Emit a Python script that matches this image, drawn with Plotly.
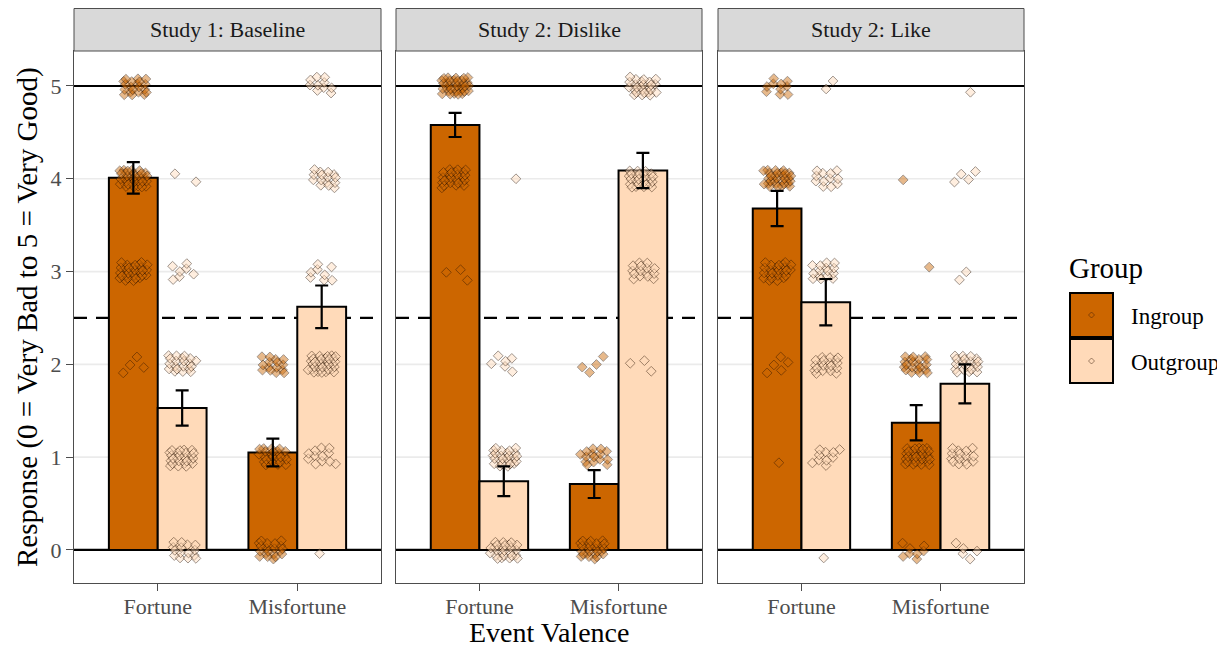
import plotly.graph_objects as go

# ---------------- data ----------------
panels = ["Study 1: Baseline", "Study 2: Dislike", "Study 2: Like"]
events = ["Fortune", "Misfortune"]
groups = ["Ingroup", "Outgroup"]

# bar means [panel][event][group]
means = [
    [[4.01, 1.53], [1.05, 2.62]],
    [[4.58, 0.74], [0.71, 4.09]],
    [[3.68, 2.67], [1.37, 1.79]],
]
# standard-error half widths
errs = [
    [[0.17, 0.19], [0.15, 0.23]],
    [[0.13, 0.16], [0.15, 0.19]],
    [[0.19, 0.25], [0.19, 0.21]],
]
# raw responses: counts of answers at levels 0,1,2,3,4,5  [panel][event][group]
response_levels = [0, 1, 2, 3, 4, 5]
counts = [
    [[[0, 0, 4, 30, 35, 20], [15, 25, 20, 7, 2, 0]],
     [[20, 25, 15, 0, 0, 0], [1, 12, 35, 8, 15, 10]]],
    [[[0, 0, 0, 3, 25, 35], [25, 25, 6, 0, 1, 0]],
     [[25, 15, 4, 0, 0, 0], [0, 0, 3, 15, 25, 25]]],
    [[[0, 1, 5, 25, 30, 10], [1, 10, 20, 15, 12, 2]],
     [[8, 30, 20, 1, 1, 0], [5, 15, 20, 2, 4, 1]]],
]
scale_limits = [0, 5]   # solid reference lines
midpoint = 2.5          # dashed reference line

colors = {"Ingroup": "#CC6600", "Outgroup": "#FFDAB9"}
FONT = "Liberation Serif"

# ---------------- layout geometry ----------------
# the page places the figure 8px in from the top-left corner
OFF = 8
W, H = 1225 - OFF, 649 - OFF
ml, mr, mt, mb = 74 - OFF, 1225 - 1024, 8 - OFF, 649 - 583
pw, ph = W - ml - mr, H - mt - mb
def px_x(p):
    return (p - OFF - ml) / pw
def px_y(p):
    return (H - mb - (p - OFF)) / ph

panel_px = [(74, 381), (396, 702), (718, 1024)]
panel_top, panel_bot = 51, 583
ydom = [0, px_y(panel_top)]

fig = go.Figure()

dodge = 0.35
bar_w = 0.35

def frac(v):
    return v - int(v)

for pi, pname in enumerate(panels):
    xa = "x" if pi == 0 else f"x{pi+1}"
    ya = "y" if pi == 0 else f"y{pi+1}"
    # gridlines and reference lines (below traces)
    for yv in response_levels:
        if yv in scale_limits:
            continue
        fig.add_shape(type="line", xref=f"{xa} domain", yref=ya, x0=0, x1=1, y0=yv, y1=yv,
                      line=dict(color="#EBEBEB", width=1.6), layer="below")
    for yv in scale_limits:
        fig.add_shape(type="line", xref=f"{xa} domain", yref=ya, x0=0, x1=1, y0=yv, y1=yv,
                      line=dict(color="black", width=2.2), layer="below")
    fig.add_shape(type="line", xref=f"{xa} domain", yref=ya, x0=0, x1=1,
                  y0=midpoint, y1=midpoint,
                  line=dict(color="black", width=2.2, dash="13px,9px"), layer="below")
    # bars
    for gi, g in enumerate(groups):
        xs = [ei + 1 + (gi - 0.5) * dodge for ei in range(len(events))]
        ys = [means[pi][ei][gi] for ei in range(len(events))]
        fig.add_trace(go.Bar(
            x=xs, y=ys, width=bar_w, xaxis=xa, yaxis=ya,
            marker=dict(color=colors[g], line=dict(color="black", width=2)),
            showlegend=False, hoverinfo="skip"))
    # jittered raw points
    for gi, g in enumerate(groups):
        px_, py_ = [], []
        for ei in range(len(events)):
            cx = ei + 1 + (gi - 0.5) * dodge
            k = 0
            for li, lev in enumerate(response_levels):
                for _ in range(counts[pi][ei][gi][li]):
                    k += 1
                    dx = (frac(0.5 + k * 0.7548776662 + li * 0.31 + gi * 0.17) - 0.5) * 0.2
                    dy = (frac(0.5 + k * 0.5698402910 + li * 0.13 + ei * 0.23) - 0.5) * 0.2
                    px_.append(cx + dx)
                    py_.append(lev + dy)
        fig.add_trace(go.Scatter(
            x=px_, y=py_, mode="markers", xaxis=xa, yaxis=ya,
            marker=dict(symbol="diamond", size=7.5, color=colors[g],
                        line=dict(color="#2a1200", width=1), opacity=0.45),
            showlegend=False, hoverinfo="skip"))
    # error bars (drawn on top)
    for gi, g in enumerate(groups):
        xs = [ei + 1 + (gi - 0.5) * dodge for ei in range(len(events))]
        ys = [means[pi][ei][gi] for ei in range(len(events))]
        es = [errs[pi][ei][gi] for ei in range(len(events))]
        fig.add_trace(go.Scatter(
            x=xs, y=ys, mode="markers", xaxis=xa, yaxis=ya,
            marker=dict(size=1, color="rgba(0,0,0,0)"),
            error_y=dict(type="data", array=es, color="black", thickness=2.2, width=6.5),
            showlegend=False, hoverinfo="skip"))

    x0, x1 = panel_px[pi]
    dom = [px_x(x0), px_x(x1)]
    axis_common = dict(showline=True, mirror=True, linecolor="#4d4d4d", linewidth=1)
    fig.update_layout(**{
        ("xaxis" if pi == 0 else f"xaxis{pi+1}"): dict(
            domain=dom, range=[0.4, 2.6], tickvals=[1, 2], ticktext=events,
            showgrid=False, zeroline=False, ticks="outside", ticklen=7,
            tickcolor="#4d4d4d", tickwidth=1.2, anchor=ya, ticklabelstandoff=-3,
            tickfont=dict(family=FONT, size=22, color="#4d4d4d"), **axis_common),
        ("yaxis" if pi == 0 else f"yaxis{pi+1}"): dict(
            domain=ydom, range=[-0.356, 5.377], tickvals=response_levels,
            showgrid=False, zeroline=False,
            ticks="outside" if pi == 0 else "", ticklen=7, tickcolor="#4d4d4d", tickwidth=1.2,
            showticklabels=(pi == 0), anchor=xa,
            tickfont=dict(family=FONT, size=22, color="#4d4d4d"), **axis_common),
    })
    # strip
    fig.add_shape(type="rect", xref="paper", yref="paper",
                  x0=px_x(x0), x1=px_x(x1), y0=px_y(panel_top), y1=px_y(8.5),
                  fillcolor="#D9D9D9", line=dict(color="#4d4d4d", width=1))
    fig.add_annotation(xref="paper", yref="paper", x=(px_x(x0) + px_x(x1)) / 2,
                       y=(px_y(panel_top) + px_y(8.5)) / 2, text=pname, showarrow=False,
                       font=dict(family=FONT, size=22, color="#1a1a1a"),
                       xanchor="center", yanchor="middle")

# axis titles
fig.add_annotation(xref="paper", yref="paper", x=px_x(549), y=px_y(632), text="Event Valence",
                   showarrow=False, font=dict(family=FONT, size=28, color="black"),
                   xanchor="center", yanchor="middle")
fig.add_annotation(xref="paper", yref="paper", x=px_x(28), y=px_y(317),
                   text="Response (0 = Very Bad to 5 = Very Good)", textangle=-90,
                   showarrow=False, font=dict(family=FONT, size=29, color="black"),
                   xanchor="center", yanchor="middle")

# manual legend
fig.add_annotation(xref="paper", yref="paper", x=px_x(1067), y=px_y(268), text="Group",
                   showarrow=False, font=dict(family=FONT, size=29, color="black"),
                   xanchor="left", yanchor="middle")
for gi, g in enumerate(groups):
    top = 293 + gi * 46
    fig.add_shape(type="rect", xref="paper", yref="paper",
                  x0=px_x(1070), x1=px_x(1113), y0=px_y(top + 44), y1=px_y(top),
                  fillcolor=colors[g], line=dict(color="black", width=2))
    cxp, cyp = 1091.5, top + 22
    fig.add_shape(type="path", xref="paper", yref="paper",
                  path=(f"M {px_x(cxp-3)},{px_y(cyp)} L {px_x(cxp)},{px_y(cyp-3)} "
                        f"L {px_x(cxp+3)},{px_y(cyp)} L {px_x(cxp)},{px_y(cyp+3)} Z"),
                  fillcolor=colors[g], line=dict(color="rgba(60,30,10,0.5)", width=1))
    fig.add_annotation(xref="paper", yref="paper", x=px_x(1129), y=px_y(top + 23), text=g,
                       showarrow=False, font=dict(family=FONT, size=23, color="black"),
                       xanchor="left", yanchor="middle")

fig.update_layout(
    width=W, height=H, margin=dict(l=ml, r=mr, t=mt, b=mb, pad=0),
    paper_bgcolor="white", plot_bgcolor="white",
    barmode="overlay", showlegend=False,
    font=dict(family=FONT),
)

fig.write_html("out.html")
